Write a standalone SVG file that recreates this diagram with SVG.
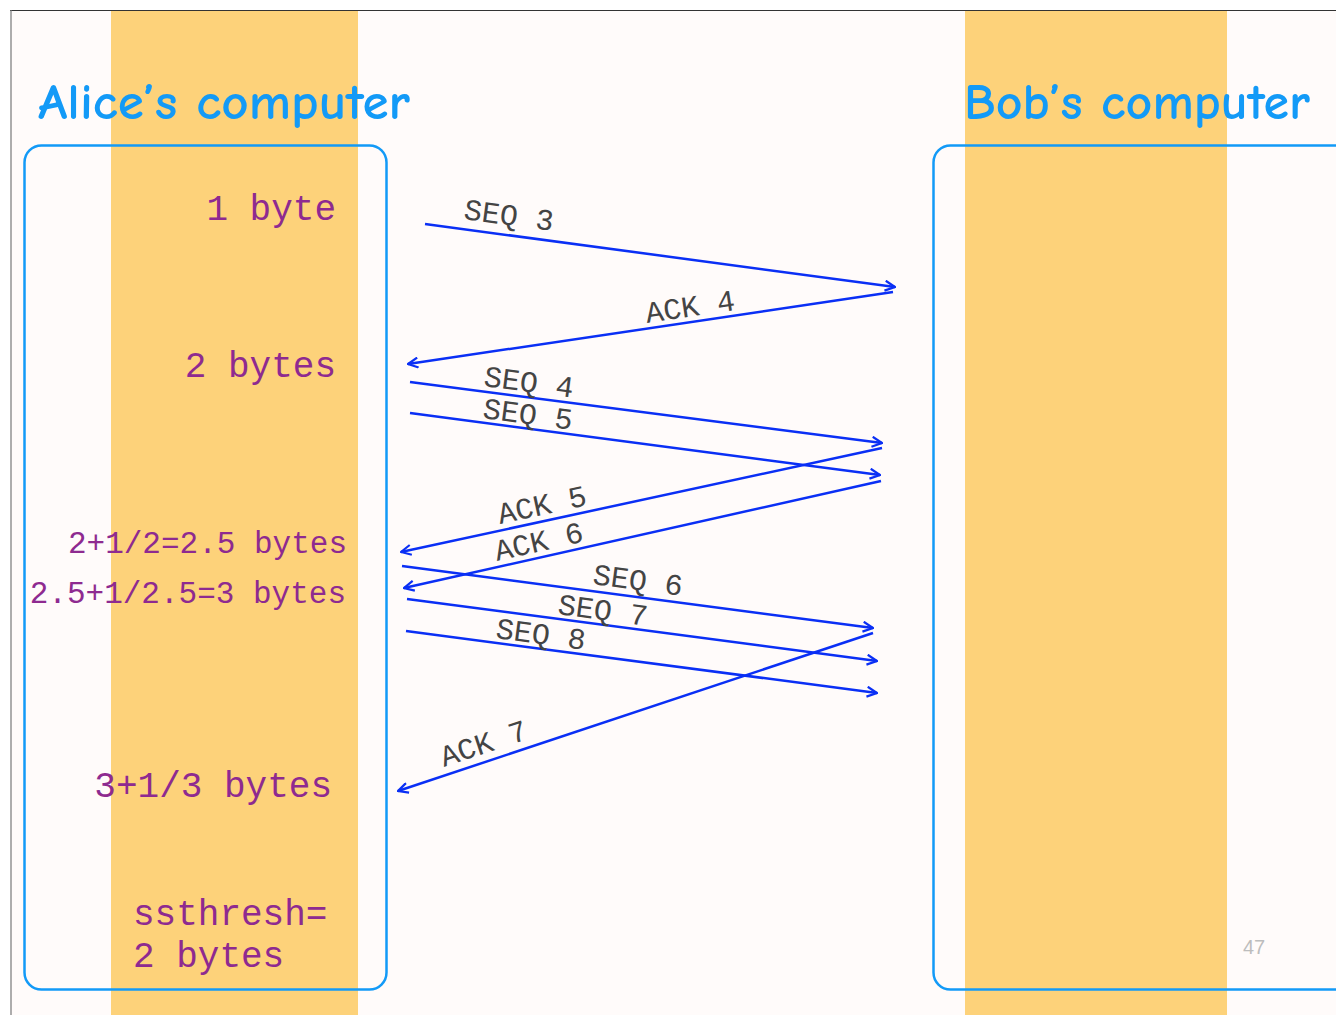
<svg xmlns="http://www.w3.org/2000/svg" width="1336" height="1015" viewBox="0 0 1336 1015">
<defs>
<style>
.band{fill:#FDD27A}
.box{fill:none;stroke:#139AF7;stroke-width:2.5}
.title{font-family:"Comic Neue","Noto Sans","Liberation Sans",sans-serif;font-size:50px;fill:#139AF7;font-weight:bold}
.cw{font-family:"Liberation Mono","Courier New",monospace;fill:#8E2A90}
.lbl{font-family:"Liberation Mono","Courier New",monospace;font-size:30px;fill:#444}
.arr{stroke:#0A2FF5;stroke-width:2.5;fill:none;marker-end:url(#ah)}
</style>
<marker id="ah" viewBox="0 0 12 12" refX="11" refY="6" markerWidth="12" markerHeight="12" markerUnits="userSpaceOnUse" orient="auto">
<path d="M1,1 L11,6 L1,11" fill="none" stroke="#0A2FF5" stroke-width="2.2"/>
</marker>
</defs>
<rect x="0" y="0" width="1336" height="1015" fill="#ffffff"/>
<rect x="11" y="10" width="1325" height="1005" fill="#FFFBFA"/>
<line x1="10" y1="10.5" x2="1336" y2="10.5" stroke="#333" stroke-width="1.2"/>
<line x1="11" y1="10" x2="11" y2="1015" stroke="#777" stroke-width="1.2"/>
<rect class="band" x="111" y="11" width="247" height="1004"/>
<rect class="band" x="965" y="11" width="262" height="1004"/>

<g id="alice">
<rect class="box" x="24.5" y="145.5" width="362" height="844" rx="17"/>
<text class="title" x="38" y="119" textLength="372" lengthAdjust="spacingAndGlyphs">Alice’s computer</text>
<text class="cw" x="336" y="220" font-size="36" text-anchor="end">1 byte</text>
<text class="cw" x="336" y="377" font-size="36" text-anchor="end">2 bytes</text>
<text class="cw" x="347" y="553" font-size="31" text-anchor="end">2+1/2=2.5 bytes</text>
<text class="cw" x="346" y="603" font-size="31" text-anchor="end">2.5+1/2.5=3 bytes</text>
<text class="cw" x="332" y="797" font-size="36" text-anchor="end">3+1/3 bytes</text>
<text class="cw" x="133" y="925" font-size="36">ssthresh=</text>
<text class="cw" x="133" y="967" font-size="36">2 bytes</text>
</g>

<g id="bob">
<rect class="box" x="933.5" y="145.5" width="420" height="844" rx="17"/>
<text class="title" x="964" y="119" textLength="346" lengthAdjust="spacingAndGlyphs">Bob’s computer</text>
</g>

<g id="connectors">
<line class="arr" x1="425" y1="224" x2="895" y2="287"/>
<line class="arr" x1="893" y1="292" x2="408" y2="364"/>
<line class="arr" x1="410" y1="382" x2="882" y2="443"/>
<line class="arr" x1="410" y1="413" x2="880" y2="475"/>
<line class="arr" x1="882" y1="448" x2="401" y2="552"/>
<line class="arr" x1="881" y1="481" x2="404" y2="588"/>
<line class="arr" x1="402" y1="566" x2="873" y2="628"/>
<line class="arr" x1="407" y1="599" x2="877" y2="661"/>
<line class="arr" x1="406" y1="631" x2="877" y2="693"/>
<line class="arr" x1="873" y1="633" x2="398" y2="791"/>
<text class="lbl" transform="translate(463,219) rotate(7.6)">SEQ 3</text>
<text class="lbl" transform="translate(647,323) rotate(-8.4)">ACK 4</text>
<text class="lbl" transform="translate(483,386) rotate(7.4)">SEQ 4</text>
<text class="lbl" transform="translate(482,418) rotate(7.5)">SEQ 5</text>
<text class="lbl" transform="translate(500,524) rotate(-12.2)">ACK 5</text>
<text class="lbl" transform="translate(497,561) rotate(-12.6)">ACK 6</text>
<text class="lbl" transform="translate(592,584) rotate(7.5)">SEQ 6</text>
<text class="lbl" transform="translate(557,614) rotate(7.5)">SEQ 7</text>
<text class="lbl" transform="translate(495,638) rotate(7.5)">SEQ 8</text>
<text class="lbl" transform="translate(444,767) rotate(-18.4)">ACK 7</text>
</g>
<text x="1243" y="954" font-family="Liberation Sans, sans-serif" font-size="20" fill="#BDBDBD">47</text>
</svg>
